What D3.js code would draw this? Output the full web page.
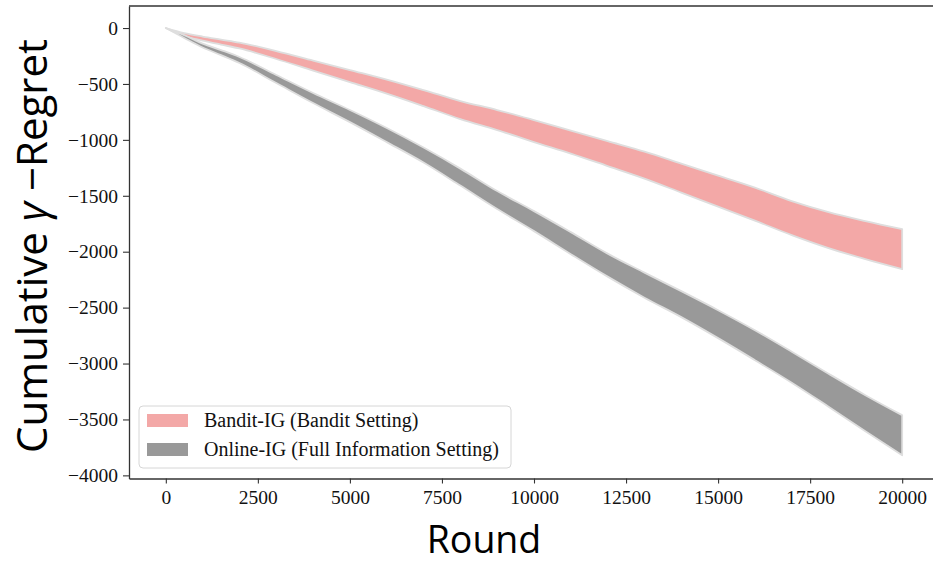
<!DOCTYPE html>
<html>
<head>
<script src="https://cdn.jsdelivr.net/npm/d3@7"></script>
<style>
    body { margin: 0; background: #fff; }
    svg { display: block; }
</style>
</head>
<body>
<svg width="933" height="564"></svg>
<script>
    // rounds at which the bands were read
    const rounds = [0, 500, 1000, 1500, 2000, 3000, 4000, 5000, 6000, 7000, 8000, 9000, 10000,
                    11000, 12000, 13000, 14000, 15000, 16000, 17000, 18000, 19000, 20000]

    // Bandit-IG band (upper / lower)
    const banditHi = [0, -45, -76, -103, -130, -206, -291, -376, -461, -555, -653, -733, -823,
                      -917, -1011, -1105, -1212, -1320, -1427, -1547, -1646, -1726, -1798]
    const banditLo = [0, -72, -112, -148, -183, -277, -380, -483, -586, -698, -814, -912, -1020,
                      -1123, -1234, -1346, -1471, -1597, -1722, -1852, -1968, -2066, -2156]

    // Online-IG band (upper / lower)
    const onlineHi = [0, -63, -139, -197, -259, -420, -581, -733, -894, -1069, -1257, -1458, -1637,
                      -1825, -2017, -2187, -2353, -2523, -2702, -2894, -3091, -3283, -3462]
    const onlineLo = [0, -89, -174, -242, -313, -492, -671, -841, -1020, -1203, -1409, -1619, -1816,
                      -2022, -2223, -2411, -2585, -2773, -2970, -3171, -3386, -3605, -3820]

    const xTicks = [0, 2500, 5000, 7500, 10000, 12500, 15000, 17500, 20000]
    const yTicks = [0, -500, -1000, -1500, -2000, -2500, -3000, -3500, -4000]

    const seriesNames = ["Bandit-IG (Bandit Setting)", "Online-IG (Full Information Setting)"]
    const seriesColors = ["#f3a8a7", "#999999"]

    const svg = d3.select("svg")
    const plotL = 129, plotR = 939, plotT = 6, plotB = 478.5

    const x = d3.scaleLinear().domain([-1000, 21000]).range([plotL, plotR])
    const y = d3.scaleLinear().domain([197, -4028]).range([plotT, plotB])

    const fmt = d => d < 0 ? "\u2212" + (-d) : String(d)

    const bands = [
        {hi: banditHi, lo: banditLo},
        {hi: onlineHi, lo: onlineLo}
    ]

    const area = d3.area()
        .x(d => x(d.r))
        .y0(d => y(d.lo))
        .y1(d => y(d.hi))
        .curve(d3.curveMonotoneX)

    bands.forEach(function(b, k) {
        const pts = rounds.map((r, i) => ({r: r, hi: b.hi[i], lo: b.lo[i]}))
        svg.append("path")
            .datum(pts)
            .attr("d", area)
            .attr("fill", seriesColors[k])
            .attr("stroke", "#dedede")
            .attr("stroke-width", 1.8)
            .attr("stroke-linejoin", "round")
    })

    // axes
    const xAxis = svg.append("g")
        .attr("transform", "translate(0," + plotB + ")")
        .call(d3.axisBottom(x).tickValues(xTicks).tickFormat(fmt).tickSize(5).tickSizeOuter(0))
    const yAxis = svg.append("g")
        .attr("transform", "translate(" + plotL + ",0)")
        .call(d3.axisLeft(y).tickValues(yTicks).tickFormat(fmt).tickSize(6).tickSizeOuter(0))

    ;[xAxis, yAxis].forEach(function(g) {
        g.select(".domain").attr("stroke", "#333").attr("stroke-width", 1.3)
        g.selectAll(".tick line").attr("stroke", "#333").attr("stroke-width", 1.1)
        g.selectAll(".tick text")
            .attr("fill", "#111")
            .style("font-family", "'Liberation Serif', 'Times New Roman', serif")
            .style("font-size", "19.5px")
    })
    xAxis.selectAll(".tick text").attr("dy", null).attr("y", 25)
    yAxis.selectAll(".tick text").attr("x", -11)

    // top spine
    svg.append("line")
        .attr("x1", plotL).attr("x2", plotR)
        .attr("y1", plotT).attr("y2", plotT)
        .attr("stroke", "#333").attr("stroke-width", 1.3)

    // legend
    const legend = svg.append("g")
    legend.append("rect")
        .attr("x", 139).attr("y", 406)
        .attr("width", 372).attr("height", 62)
        .attr("rx", 4)
        .attr("fill", "#fff").attr("fill-opacity", 0.8)
        .attr("stroke", "#d6d6d6").attr("stroke-width", 1)

    seriesNames.forEach(function(name, i) {
        legend.append("rect")
            .attr("x", 147).attr("y", 414 + i * 29)
            .attr("width", 41).attr("height", 13)
            .attr("fill", seriesColors[i])
        legend.append("text")
            .attr("x", 204).attr("y", 427 + i * 29)
            .style("font-family", "'Liberation Serif', 'Times New Roman', serif")
            .style("font-size", "20px")
            .attr("fill", "#111")
            .text(name)
    })

    // axis titles
    svg.append("text")
        .attr("x", 484).attr("y", 553)
        .attr("text-anchor", "middle")
        .style("font-family", "'Open Sans', sans-serif")
        .style("font-size", "37.5px")
        .attr("fill", "#000")
        .text("Round")

    const yl = svg.append("text")
        .attr("transform", "translate(47,246) rotate(-90)")
        .attr("text-anchor", "middle")
        .style("font-family", "'Open Sans', sans-serif")
        .style("font-size", "42px")
        .attr("fill", "#000")
    yl.append("tspan").text("Cumulative ")
    yl.append("tspan").style("font-style", "italic").text("\u03b3")
    yl.append("tspan").text(" \u2212Regret")
</script>
</body>
</html>
